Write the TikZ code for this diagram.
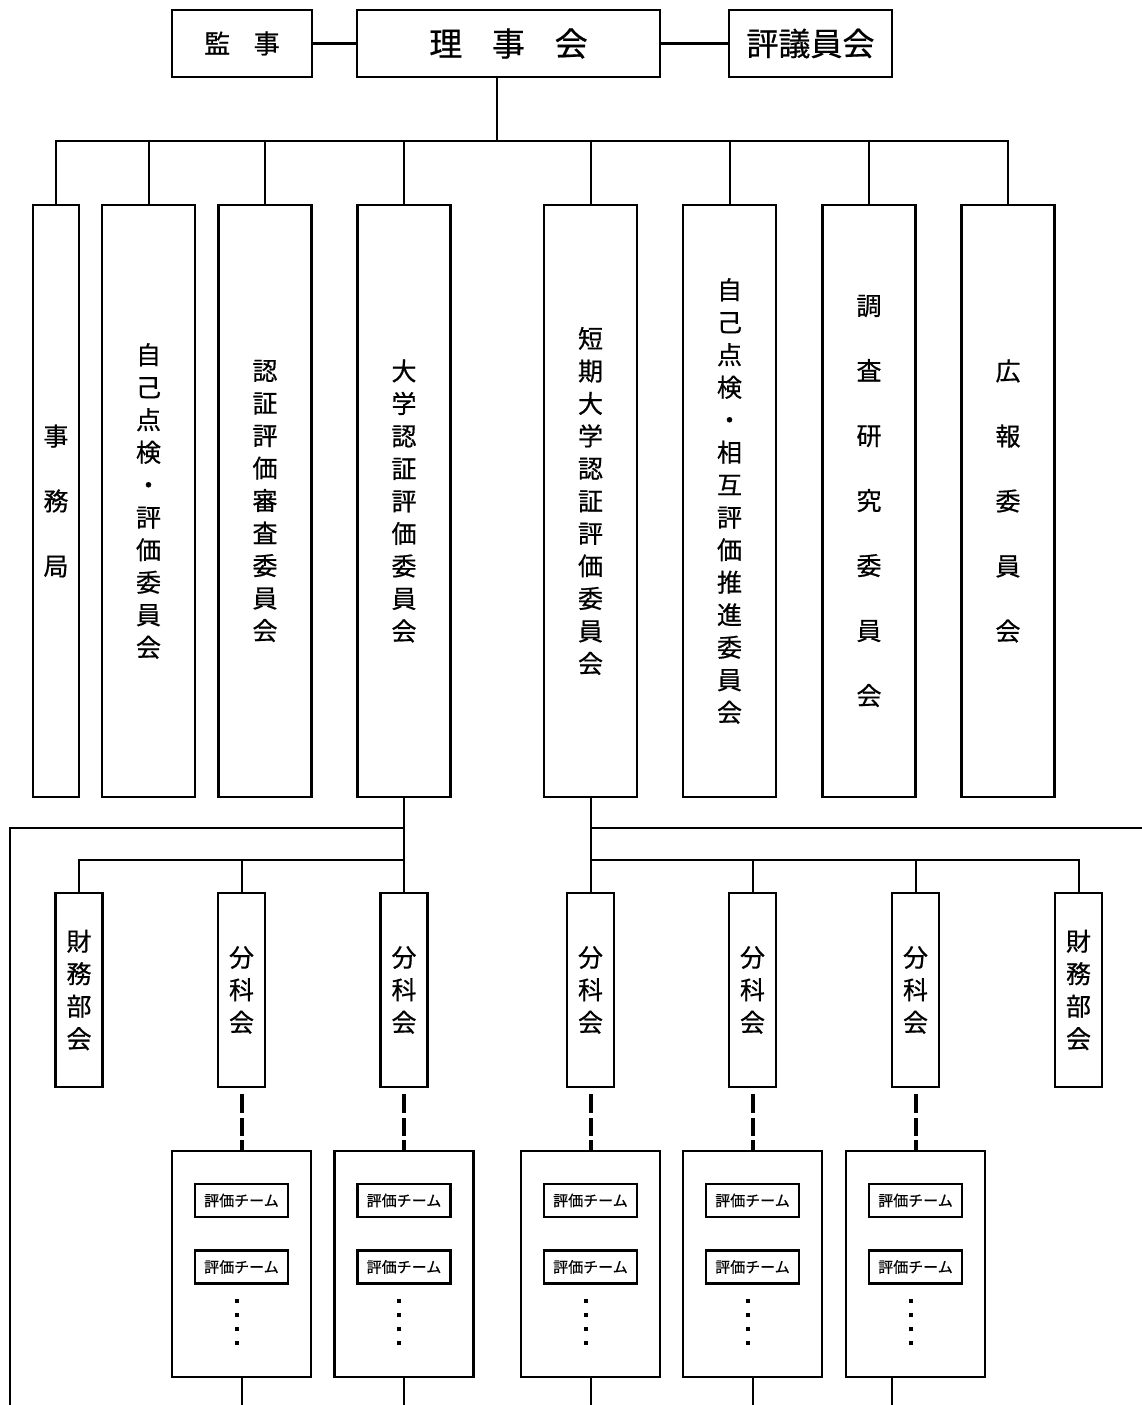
\documentclass[tikz,border=0pt]{standalone}
\usepackage{fontspec}
\setmainfont[FakeBold=0.6,AutoFakeBold=0.6]{Noto Sans CJK JP}
\usetikzlibrary{math,positioning}

\tikzset{
  orgbox/.style={draw, line width=2.4pt, inner sep=0pt, align=center},
  headbox/.style={orgbox, minimum height=67pt},
  colbox/.style={orgbox, minimum width=93pt, minimum height=592pt, font=\fontsize{25}{32.5}\selectfont\bfseries},
  sparse/.style={font=\fontsize{25}{65}\selectfont\bfseries},
  secbox/.style={orgbox, minimum width=47pt, minimum height=194pt, font=\fontsize{25}{32.5}\selectfont\bfseries},
  grpbox/.style={orgbox, minimum width=139pt, minimum height=226pt},
  teambox/.style={orgbox, minimum width=93pt, minimum height=33pt, font=\fontsize{15}{18}\selectfont},
  link/.style={line width=2pt},
  thicklink/.style={line width=3.6pt},
  dashlink/.style={line width=4pt, dash pattern=on 0pt off 6pt on 19pt off 5pt on 18pt off 4pt on 40pt},
}

\begin{document}
\begin{tikzpicture}[x=1pt,y=-1pt]
  \tikzmath{
    real \busY,\longY,\subY,\bottom;
    \busY=141;
    \longY=828;
    \subY=860;
    \bottom=1405;
  }
  \useasboundingbox (0,0) rectangle (1142,1405);

  \node[headbox,minimum width=140pt,font=\fontsize{26}{30}\selectfont\bfseries] (kanji) at (242,43.5) {監\hspace{0.9em}事};
  \node[headbox,minimum width=303pt,font=\fontsize{33}{36}\selectfont\bfseries] (rijikai) at (508.5,43.5) {理\hspace{0.9em}事\hspace{0.9em}会};
  \node[headbox,minimum width=163pt,font=\fontsize{32}{36}\selectfont\bfseries] (hyogiin) at (810.5,43.5) {評議員会};

  \node[colbox,minimum width=46pt,sparse] (jimu) at (56,501) {事\\務\\局};
  \node[colbox] (jiko) at (148.5,501) {自\\己\\点\\検\\・\\評\\価\\委\\員\\会};
  \node[colbox] (ninsho) at (265,501) {認\\証\\評\\価\\審\\査\\委\\員\\会};
  \node[colbox] (daigaku) at (404,501) {大\\学\\認\\証\\評\\価\\委\\員\\会};
  \node[colbox] (tanki) at (590.5,501) {短\\期\\大\\学\\認\\証\\評\\価\\委\\員\\会};
  \node[colbox] (sogo) at (729.5,501) {自\\己\\点\\検\\・\\相\\互\\評\\価\\推\\進\\委\\員\\会};
  \node[colbox,sparse] (chosa) at (869,501) {調\\査\\研\\究\\委\\員\\会};
  \node[colbox,sparse] (koho) at (1008,501) {広\\報\\委\\員\\会};

  \node[secbox] (zaimuL) at (79,990) {財\\務\\部\\会};
  \node[secbox] (bunA) at (241.5,990) {分\\科\\会};
  \node[secbox] (bunB) at (404,990) {分\\科\\会};
  \node[secbox] (bunC) at (590.5,990) {分\\科\\会};
  \node[secbox] (bunD) at (752.5,990) {分\\科\\会};
  \node[secbox] (bunE) at (915.5,990) {分\\科\\会};
  \node[secbox] (zaimuR) at (1078.5,990) {財\\務\\部\\会};

  \coordinate (bus) at (497,\busY);
  \coordinate (longL) at (404,\longY);
  \coordinate (busL) at (404,\subY);
  \coordinate (edgeL) at (10,\bottom);
  \coordinate (longR) at (590.5,\longY);
  \coordinate (busR) at (590.5,\subY);
  \coordinate (edgeR) at (1142,\longY);

  \draw[thicklink] (kanji) -- (rijikai);
  \draw[thicklink] (rijikai) -- (hyogiin);
  \draw[link] (bus |- rijikai.south) -- (bus);
  \foreach \n in {jimu,jiko,ninsho,daigaku,tanki,sogo,chosa,koho}
    \draw[link] (bus) -| (\n.north);

  \draw[link] (daigaku.south) -- (busL);
  \draw[link] (longL) -| (edgeL);
  \foreach \n in {zaimuL,bunA,bunB}
    \draw[link] (busL) -| (\n.north);

  \draw[link] (tanki.south) -- (bunC.north);
  \draw[link] (longR) -- (edgeR);
  \foreach \n in {bunD,bunE,zaimuR}
    \draw[link] (busR) -| (\n.north);

  \foreach \g/\x/\e in {A/241.5/241.5,B/404/404,C/590.5/590.5,D/752.5/752.5,E/915.5/892}{
    \node[grpbox] (grp\g) at (\x,1264) {};
    \node[teambox,below=33pt of grp\g.north] (team\g1) {評価チーム};
    \node[teambox,below=31pt of team\g1] (team\g2) {評価チーム};
    \draw[dashlink] (bun\g) -- (grp\g);
    \foreach \k in {0,...,3}
      \fill ([xshift=-7pt,yshift=-14pt-\k*14pt]team\g2.south) rectangle ++(4,4);
    \coordinate (end\g) at (\e,\bottom);
    \draw[link] (end\g |- grp\g.south) -- (end\g);
  }
\end{tikzpicture}
\end{document}
